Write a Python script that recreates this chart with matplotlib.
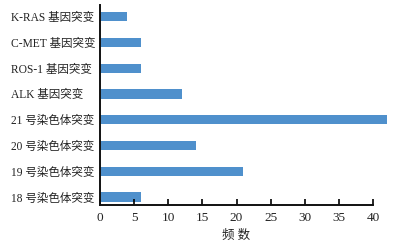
import numpy as np
import matplotlib.pyplot as plt

plt.rcParams['font.family'] = ['Liberation Serif', 'Noto Sans CJK SC']

categories = ['18 号染色体突变', '19 号染色体突变', '20 号染色体突变', '21 号染色体突变',
              'ALK 基因突变', 'ROS-1 基因突变', 'C-MET 基因突变', 'K-RAS 基因突变']
counts = [6, 21, 14, 42, 12, 6, 6, 4]
xticks = [0, 5, 10, 15, 20, 25, 30, 35, 40]

fig = plt.figure(figsize=(3.93, 2.46), dpi=100)
ax = fig.add_axes([100 / 393, 41 / 246, 273 / 393, 200 / 246])

y = np.arange(len(categories))
ax.barh(y, counts, height=0.36, color='#4f90cc', clip_on=False)

ax.set_xlim(0, 40)
ax.set_ylim(-0.31, 7.45)
ax.set_yticks(y)
ax.set_yticklabels(categories, fontsize=8.3, color='#222222', ha='left')
ax.set_xticks(xticks)
ax.set_xticklabels([str(t) for t in xticks], fontsize=9.5, color='#222222')
ax.set_xlabel('频 数', fontsize=9, color='#222222', labelpad=4)

for s in ['top', 'right']:
    ax.spines[s].set_visible(False)
for s in ['left', 'bottom']:
    ax.spines[s].set_linewidth(1.4)
    ax.spines[s].set_color('#111111')
ax.tick_params(axis='x', direction='in', length=4, width=1.2, pad=5)
# labels left-aligned at ~11 px from the figure edge
ax.tick_params(axis='y', length=0, pad=89 * 72 / 100)

fig.savefig('out.png', dpi=100)
